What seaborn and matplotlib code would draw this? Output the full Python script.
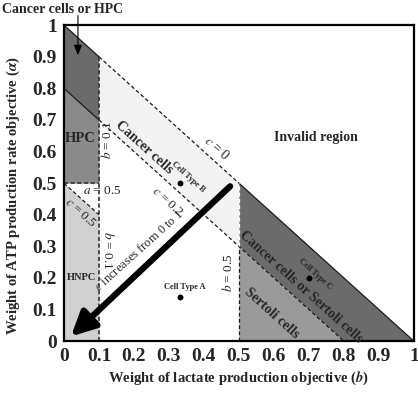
import matplotlib
matplotlib.use("Agg")
import matplotlib.pyplot as plt
import seaborn as sns
import numpy as np
import pandas as pd

# ---- data ----
c_levels = [0.0, 0.2, 0.5]          # c = 1 - a - b
b_thresholds = [0.1, 0.5]
a_threshold = 0.5
cell_names = ["Cell Type A", "Cell Type B", "Cell Type C"]
cell_b = [0.333, 0.333, 0.70]
cell_a = [0.14, 0.50, 0.20]

sns.set_theme(style="white")
plt.rcParams['font.family'] = ['Liberation Serif', 'DejaVu Serif']
plt.rcParams['mathtext.fontset'] = 'stix'

fig = plt.figure(figsize=(4.18, 3.93), dpi=100)
ax = fig.add_axes([0.153, 0.132, 0.837, 0.804])
ax.set_xlim(0, 1)
ax.set_ylim(0, 1)

dark = "#6b6b6b"
mid = "#9a9a9a"
light = "#d0d0d0"
vlight = "#f3f3f3"

b1, b5 = b_thresholds
top = 1 - c_levels[0]
c2 = 1 - c_levels[1]
c5 = 1 - c_levels[2]

# regions
xs = np.array([0, b1])
ax.fill_between(xs, c2 - xs, top - xs, color=dark, lw=0)          # cancer or HPC
ax.fill_between(xs, a_threshold, c2 - xs, color="#8a8a8a", lw=0)   # HPC
ax.fill_between(xs, 0, c5 - xs, color=light, lw=0)                 # HNPC
xs2 = np.array([b1, b5])
ax.fill_between(xs2, c2 - xs2, top - xs2, color=vlight, lw=0)      # cancer cells
xs3 = np.array([b5, c2, 1.0])
ax.fill_between(xs3, np.clip(c2 - xs3, 0, None), top - xs3, color=dark, lw=0)
xs4 = np.array([b5, c2])
ax.fill_between(xs4, 0, c2 - xs4, color=mid, lw=0)                 # Sertoli

# boundary lines
ax.plot([0, b1], [top, top - b1], color="k", lw=0.9)
ax.plot([b1, b5], [top - b1, top - b5], color="k", lw=0.9, ls=(0, (3, 2)))
ax.plot([b5, 1], [top - b5, 0], color="k", lw=0.9)
ax.plot([0, b1], [c2, c2 - b1], color="k", lw=0.9)
ax.plot([b1, c2], [c2 - b1, 0], color="k", lw=0.9, ls=(0, (3, 2)))
ax.plot([0, b1], [c5, c5 - b1], color="k", lw=0.9, ls=(0, (3, 2)))
ax.plot([b1, b1], [0, top - b1], color="#333333", lw=1.2, ls=(0, (2.5, 1.5)))
ax.plot([0, b1], [a_threshold, a_threshold], color="#333333", lw=1.2, ls=(0, (2.5, 1.5)))
ax.plot([b5, b5], [0, c2 - b5], color="k", lw=0.9, ls=(0, (3, 2)))
ax.plot([b5, b5], [c2 - b5, top - b5], color="white", lw=0.9, ls=(0, (3, 2)))

# cell points
df = pd.DataFrame({"name": cell_names, "b": cell_b, "a": cell_a})
sns.scatterplot(data=df, x="b", y="a", color="black", s=18, edgecolor="black",
                linewidth=0, ax=ax, zorder=5, legend=False)

# arrow
ax.annotate("", xy=(0.02, 0.015), xytext=(0.475, 0.49),
            arrowprops=dict(arrowstyle="-|>,head_length=1.2,head_width=0.6",
                            color="black", lw=4.5, shrinkA=0, shrinkB=0))

ang = -42
ax.text(0.23, 0.614, "Cancer cells", rotation=ang, ha="center", va="center",
        fontsize=10, fontweight="bold")
ax.text(0.356, 0.52, "Cell Type B", rotation=ang, ha="center", va="center",
        fontsize=6, fontweight="bold")
ax.text(0.437, 0.61, "$c$ = 0", rotation=ang, ha="center", va="center", fontsize=10)
ax.text(0.296, 0.442, "$c$ = 0.2", rotation=ang, ha="center", va="center", fontsize=9.5)
ax.text(0.048, 0.405, "$c$ = 0.5", rotation=ang, ha="center", va="center", fontsize=9.5)
ax.text(0.123, 0.636, "$b$ = 0.1", rotation=90, ha="center", va="center", fontsize=9.5)
ax.text(0.126, 0.288, "$b$ = 0.1", rotation=-90, ha="center", va="center", fontsize=9.5)
ax.text(0.469, 0.218, "$b$ = 0.5", rotation=90, ha="center", va="center", fontsize=9.5)
ax.text(0.11, 0.475, "$a$ = 0.5", ha="center", va="center", fontsize=9.5)
ax.text(0.214, 0.286, "$c$ increases from 0 to 1", rotation=42, ha="center",
        va="center", fontsize=9)
ax.text(0.346, 0.17, "Cell Type A", ha="center", va="center", fontsize=6,
        fontweight="bold")
ax.text(0.717, 0.212, "Cell Type C", rotation=ang, ha="center", va="center",
        fontsize=6, fontweight="bold")
ax.text(0.677, 0.171, "Cancer cells or Sertoli cells", rotation=ang, ha="center",
        va="center", fontsize=10, fontweight="bold")
ax.text(0.595, 0.089, "Sertoli cells", rotation=ang, ha="center", va="center",
        fontsize=10, fontweight="bold")
ax.text(0.045, 0.642, "HPC", ha="center", va="center", fontsize=10.5, fontweight="bold")
ax.text(0.05, 0.2, "HNPC", ha="center", va="center", fontsize=7.5, fontweight="bold")
ax.text(0.72, 0.645, "Invalid region", ha="center", va="center", fontsize=10,
        fontweight="bold")
ax.text(-0.005, 1.05, "Cancer cells or HPC", ha="center", va="center",
        fontsize=10, fontweight="bold", clip_on=False)
ax.annotate("", xy=(0.04, 0.905), xytext=(0.04, 1.03), annotation_clip=False,
            arrowprops=dict(arrowstyle="-|>,head_length=0.5,head_width=0.2",
                            color="black", lw=0.8, shrinkA=0, shrinkB=0))

ticks = [0, 0.1, 0.2, 0.3, 0.4, 0.5, 0.6, 0.7, 0.8, 0.9, 1]
ticklabels = ["0", "0.1", "0.2", "0.3", "0.4", "0.5", "0.6", "0.7", "0.8", "0.9", "1"]
ax.set_xticks(ticks)
ax.set_xticklabels(ticklabels, fontsize=14, fontweight="bold")
ax.set_yticks(ticks)
ax.set_yticklabels(ticklabels, fontsize=14, fontweight="bold")
ax.tick_params(length=0, pad=5)
ax.set_xlabel(r"Weight of lactate production objective ($\mathbfit{b}$)",
              fontsize=10.5, fontweight="bold", labelpad=3)
ax.set_ylabel(r"Weight of ATP production rate objective ($\mathbfit{\alpha}$)",
              fontsize=10.5, fontweight="bold")
ax.yaxis.set_label_coords(-0.12, 0.46)
for s in ax.spines.values():
    s.set_color("black")
    s.set_linewidth(1.6)

fig.savefig("out.png", dpi=100)
